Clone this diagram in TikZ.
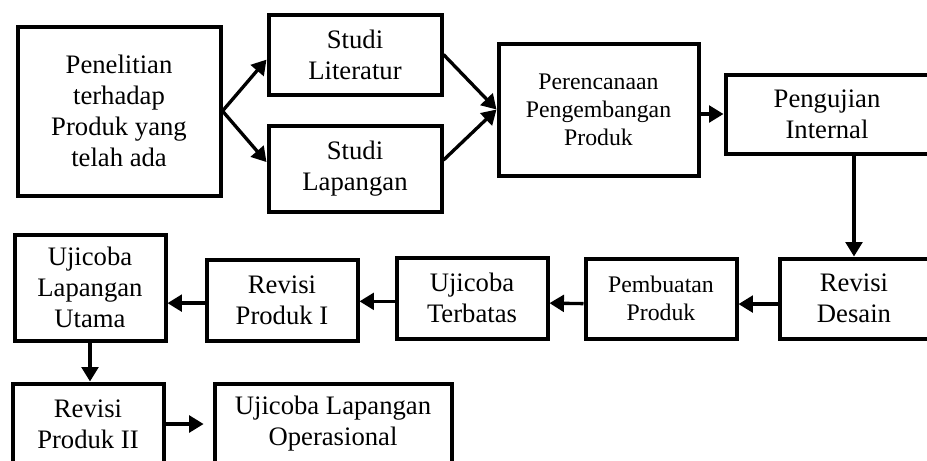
\documentclass[tikz,border=0pt]{standalone}
\usepackage{fontspec}
\setmainfont{Liberation Serif}
\usetikzlibrary{arrows.meta,positioning}

\begin{document}
\begin{tikzpicture}[x=0.45pt,y=-0.45pt,
    box/.style={draw,line width=1.8pt,align=center,inner sep=0pt,font=\fontsize{12}{14}\selectfont},
    sm/.style={font=\fontsize{10.7}{12.6}\selectfont},
    wh/.style 2 args={minimum width=#1*0.45pt,minimum height=#2*0.45pt},
    >={Triangle[length=6.5pt,width=7.5pt]}]
          \useasboundingbox (0,0) rectangle (927,460);
          \clip (0,0) rectangle (927,460);
          % top row
          \node(A)[box,wh={203}{169}] at (119,111) {Penelitian\\terhadap\\Produk yang\\telah ada};
          \node(SL)[box,wh={173}{80}] at (355,54.5) {Studi\\Literatur};
          \node(SP)[box,wh={173}{86}] at (355,168.5) {Studi\\Lapangan};
          \node(PP)[box,sm,wh={200}{132}] at (598.5,109.5) {Perencanaan\\Pengembangan\\Produk};
          \node(PI)[box,wh={203}{79}] at (827,114) {Pengujian\\Internal};
          % second row
          \node(RD)[box,wh={149}{80}] at (854,298.5) {Revisi\\Desain};
          \node(PB)[box,sm,wh={151}{80}] at (661,298.5) {Pembuatan\\Produk};
          \node(UT)[box,wh={151}{81}] at (472,298) {Ujicoba\\Terbatas};
          \node(R1)[box,wh={151}{81}] at (282,300) {Revisi\\Produk I};
          \node(UU)[box,wh={151}{106}] at (90,287.5) {Ujicoba\\Lapangan\\Utama};
          % bottom row
          \node(R2)[box,wh={151}{81}] at (88,424) {Revisi\\Produk II};
          \node(UO)[box,wh={237}{81}] at (333,424) {Ujicoba Lapangan\\Operasional};
          \path[->,line width=1.5pt] (A.east) edge ([yshift=-2.3pt]SL.west);
          \path[->,line width=1.5pt] (A.east) edge ([yshift=2.9pt]SP.west);
          \path[->,line width=1.5pt] (SL.east) edge (PP.west);
          \path[->,line width=1.5pt] ([yshift=3.8pt]SP.east) edge (PP.west);
          \path[->,line width=1.5pt] (PP.east |- PI.west) edge (PI.west);
          \path[->,line width=1.5pt] (RD.north |- PI.south) edge (RD.north);
          \path[->,line width=1.5pt] ([yshift=-2.5pt]RD.west) edge ([yshift=-2.5pt]PB.east);
          \path[->,line width=1.5pt] ([yshift=-2.3pt]PB.west) edge ([yshift=-2.3pt]UT.east);
          \path[->,line width=1.5pt] ([yshift=-1.5pt]UT.west) edge ([yshift=-1.5pt]UT.west -| R1.east);
          \path[->,line width=1.5pt] ([yshift=-1.4pt]R1.west) edge ([yshift=-1.4pt]R1.west -| UU.east);
          \path[->,line width=1.5pt] (UU.south) edge (UU.south |- R2.north);
          \path[->,line width=1.5pt,shorten >=4pt] (R2.east) edge (UO.west);
        \end{tikzpicture}
\end{document}
